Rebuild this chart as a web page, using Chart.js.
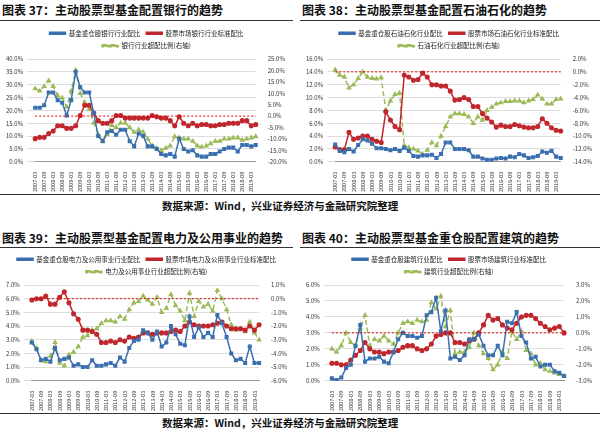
<!DOCTYPE html>
<html><head><meta charset="utf-8">
<script src="https://cdn.jsdelivr.net/npm/chart.js@4"></script>
<style>
body{margin:0;width:600px;height:433px;background:#fff;position:relative;overflow:hidden;font-family:"Noto Sans CJK SC",sans-serif;}
.t{position:absolute;font-size:12px;font-weight:bold;color:#111;white-space:nowrap;}
.ln{position:absolute;height:1px;background:#333;}
.src{position:absolute;font-size:10.5px;font-weight:bold;color:#111;white-space:nowrap;}
.c{position:absolute;}
</style></head><body>
<div class="t" style="left:2px;top:1px">图表 37：主动股票型基金配置银行的趋势</div>
<div class="t" style="left:302px;top:1px">图表 38：主动股票型基金配置石油石化的趋势</div>
<div class="ln" style="left:0;top:20px;width:293px"></div>
<div class="ln" style="left:300px;top:20px;width:300px"></div>
<div class="c" style="left:0;top:24px;width:293px;height:170px"><canvas id="c1"></canvas></div>
<div class="c" style="left:300px;top:24px;width:298px;height:170px"><canvas id="c2"></canvas></div>
<div class="ln" style="left:0;top:194px;width:600px"></div>
<div class="src" style="left:162px;top:198px">数据来源：Wind，兴业证券经济与金融研究院整理</div>
<div class="t" style="left:2px;top:229px">图表 39：主动股票型基金配置电力及公用事业的趋势</div>
<div class="t" style="left:302px;top:229px">图表 40：主动股票型基金重仓股配置建筑的趋势</div>
<div class="ln" style="left:0;top:247px;width:293px"></div>
<div class="ln" style="left:300px;top:247px;width:300px"></div>
<div class="c" style="left:0;top:250px;width:293px;height:163px"><canvas id="c3"></canvas></div>
<div class="c" style="left:300px;top:250px;width:298px;height:163px"><canvas id="c4"></canvas></div>
<div class="ln" style="left:0;top:413px;width:600px"></div>
<div class="src" style="left:162px;top:415px">数据来源：Wind，兴业证券经济与金融研究院整理</div>
<script>
const quarters=[];for(let y=2007;y<=2019;y++)for(const m of ['03','06','09','12']){if(y===2019&&(m==='09'||m==='12'))continue;quarters.push(y+'-'+m);}
// Chart 37 银行
const bank_fund=[21,21,22,27,27,24,23,18,24,35,29,27,27,19,10,8,11.5,12,10.5,12.5,12.5,8,6,11,10,6,6,5,3,2.5,3,2,9,5,4,4.5,2.5,2,2,3,3,4,5,5.5,5.5,4,6.5,6.5,6,6.5];
const bank_mkt=[9,9.5,9.5,11,12,14,14,13,13,14,18,22,22,19,16,15,15,16,18,18,17,17,17,17,17,17,18,17.5,17,17,16,14,17.5,15,14,15,14,14.5,14.5,14,14,14.5,14.5,15,15,15,16,16,14,14.5];
const bank_over=[12,11,13,15.5,13,9,8,4,11,20,10,6,3,-3,-8,-11,-8,-4,-5,-3,-3,-5,-7,-6,-7,-10,-13,-14,-15,-14,-13,-9,-9.5,-10,-10,-11,-13,-13.5,-13,-12,-11,-11,-10,-10,-9.5,-9.5,-10.5,-10,-9.5,-9];
// Chart 38 石油石化
const oil_fund=[2.7,1.7,1.5,2,1.6,2.6,3.5,3.3,2.8,2.1,2.1,2,1.8,2,1.7,2.2,1.7,0.9,0.8,1,1,1.1,0.6,1.2,3,3,2,2,2,1.8,0.8,0.8,0.5,0.3,0.3,0.5,0.6,0.5,0.8,0.7,1.2,1,0.6,0.7,0.9,1.6,1.4,1.7,0.8,0.6];
const oil_mkt=[2.3,1.9,1.9,4.6,3.5,3.7,4,4,3.5,3.2,3,7.8,6.5,5.5,5,13.5,13.2,12.7,12.8,13.8,13.2,12,12,11.8,11.8,11,9.6,9.7,10,9.7,8.6,8.6,7.5,6.8,6.2,5.4,5.7,5.5,5.5,5.8,5.6,5.4,5.3,5.3,5.5,6.7,6,5.3,4.9,4.8];
const oil_over=[0.3,-0.5,-0.8,-2.5,-2,-1,0,-0.8,-1,-1.1,-0.9,-6,-4.5,-3.5,-3.3,-11.5,-11.8,-12,-12.3,-12.8,-12.2,-11,-11.5,-10,-8.5,-7,-6.5,-6.5,-6.6,-7,-8,-7,-7.5,-6,-5.5,-5,-4.8,-4.6,-4.6,-4.5,-4.5,-4.8,-4.5,-4.3,-3.6,-4.2,-5,-5,-4.3,-4.2];
// Chart 39 电力及公用事业
const util_fund=[2.8,2.3,1.5,1.6,1.4,2.4,1.5,1.6,1.7,1.1,1.2,1.0,1.0,1.5,1.1,1.1,1.2,1.3,1.1,1.7,1.4,2.4,2.9,3.0,3.7,3.5,3.0,3.6,2.5,2.8,4.0,3.4,2.7,2.6,4.7,3.2,3.9,3.2,3.5,3.2,4.8,4.2,3.2,2.0,1.5,1.6,1.3,2.5,1.3,1.3];
const util_mkt=[5.9,6,6,6.2,5.6,5.6,6.1,6.5,5.7,4.9,4.5,3.7,3.7,3.6,3.4,2.8,2.8,2.9,2.8,3.0,2.9,3.2,3.1,3.2,3.5,3.5,3.4,3.5,3.5,3.5,3.6,3.7,3.6,4.0,4.3,4.1,4.0,4.0,4.0,4.1,4.2,4.3,4.0,3.8,3.8,3.8,3.7,4.0,3.7,4.1];
const util_over=[-3.1,-3.6,-4.5,-4.6,-4.2,-3.2,-4.7,-4.9,-4.1,-3.9,-3.5,-2.8,-2.7,-2.3,-2.2,-1.8,-1.6,-1.6,-1.7,-1.3,-1.5,-0.8,-0.3,-0.2,0.2,-0.1,-0.4,0.1,-1,-0.7,0.3,-0.5,-0.9,-1.6,0.4,-1.3,-0.2,-0.6,-0.4,-0.9,0.6,0,-0.8,-1.9,-2.3,-2.2,-2.4,-1.7,-2.5,-3.0];
// Chart 40 建筑
const cons_fund=[0.15,0.05,0.2,0.8,1,2.2,3.5,1.2,1.4,1.4,1.5,1.2,1.1,1.8,2.6,3,2.8,2.8,2.7,2.8,4.1,4.3,5.2,3.1,4.4,1.4,1.5,1.3,1.6,2.6,2.6,2.9,2.2,1.6,1.6,2.2,1.6,3.7,3.6,4.3,2.8,2.4,1.4,1.5,0.9,1.0,1.0,0.6,0.5,0.3];
const cons_mkt=[1.1,1.1,1.0,1.0,1.3,1.6,1.9,2.4,2.0,1.8,1.8,1.7,1.8,1.8,1.9,2.1,2.2,2.2,2.0,1.9,2.0,2.3,2.8,2.9,3.0,3.0,2.4,2.4,2.3,2.5,2.6,3.0,3.5,4.1,3.8,3.9,3.5,3.3,3.2,3.6,4.0,4.1,4.1,3.9,3.6,3.4,3.2,3.3,3.4,3.0];
const cons_over=[-1,-1.2,-0.8,0,-0.6,-0.8,0.3,1.1,-0.8,-0.4,-0.5,-0.2,-0.5,-0.7,0,0.6,0.7,0.6,0.8,0.7,0.8,1.9,1.5,2.3,0.4,1.4,-1.3,-1.2,-1.2,-0.9,0,-0.8,-1.3,-1.6,-2.3,-2,-1.2,-1.6,0.1,-0.4,0.1,-1.1,-1.3,-2,-1.9,-2.3,-2.4,-2.5,-2.6,-2.7];

const F='"Noto Sans CJK SC","DejaVu Sans",sans-serif';
const zeroLine={id:'z',afterDatasetsDraw(ch){const s=ch.scales.y1,a=ch.chartArea,c=ch.ctx;const y=s.getPixelForValue(0);c.save();c.strokeStyle='#e00000';c.lineWidth=1;c.setLineDash([2,2]);c.beginPath();c.moveTo(a.left,y);c.lineTo(a.right,y);c.stroke();c.restore();}};
function mk(id,names,d1,d2,d3,l,r){
 const ds=(lab,data,col,ax,style,dash)=>({label:lab,data,borderColor:col,backgroundColor:col,yAxisID:ax,borderWidth:1.5,pointStyle:style,pointRadius:1.8,pointHoverRadius:0,borderDash:dash||[],tension:0});
 new Chart(document.getElementById(id),{type:'line',
  data:{labels:quarters,datasets:[ds(names[0],d1,'#3a6fb0','y','rect'),ds(names[1],d2,'#c0272d','y','circle'),ds(names[2],d3,'#9bbb59','y1','triangle',[5,3])]},
  plugins:[zeroLine],
  options:{responsive:true,maintainAspectRatio:false,animation:false,
   layout:{padding:{left:2,right:2,top:0,bottom:0}},
   plugins:{legend:{labels:{font:{size:6.5,family:F},boxWidth:16,boxHeight:2,padding:6,color:'#222'}},tooltip:{enabled:false}},
   scales:{
    x:{grid:{display:false},border:{color:'#999'},ticks:{font:{size:5.5,family:F},color:'#333',autoSkip:false,maxRotation:90,minRotation:90,padding:2,callback:(v,i)=>i%2===0?quarters[i]:''}},
    y:{min:l[0],max:l[1],grid:{color:'#ddd',drawTickMark:false},border:{display:false},ticks:{stepSize:l[2],font:{size:6,family:F},color:'#333',padding:4,callback:v=>v.toFixed(1)+'%'}},
    y1:{position:'right',min:r[0],max:r[1],grid:{display:false},border:{display:false},ticks:{stepSize:r[2],font:{size:6,family:F},color:'#333',padding:4,callback:v=>v.toFixed(1)+'%'}}
   }}});
}
mk('c1',['基金重仓股银行行业配比','股票市场银行行业标准配比','银行行业超配比例(右轴)'],bank_fund,bank_mkt,bank_over,[0,40,5],[-20,25,5]);
mk('c2',['基金重仓股石油石化行业配比','股票市场石油石化行业标准配比','石油石化行业超配比例(右轴)'],oil_fund,oil_mkt,oil_over,[0,16,2],[-14,2,2]);
mk('c3',['基金重仓股电力及公用事业行业配比','股票市场电力及公用事业行业标准配比','电力及公用事业行业超配比例(右轴)'],util_fund,util_mkt,util_over,[0,7,1],[-6,1,1]);
mk('c4',['基金重仓股建筑行业配比','股票市场建筑行业标准配比','建筑行业超配比例(右轴)'],cons_fund,cons_mkt,cons_over,[0,6,1],[-3,3,1]);
</script></body></html>
